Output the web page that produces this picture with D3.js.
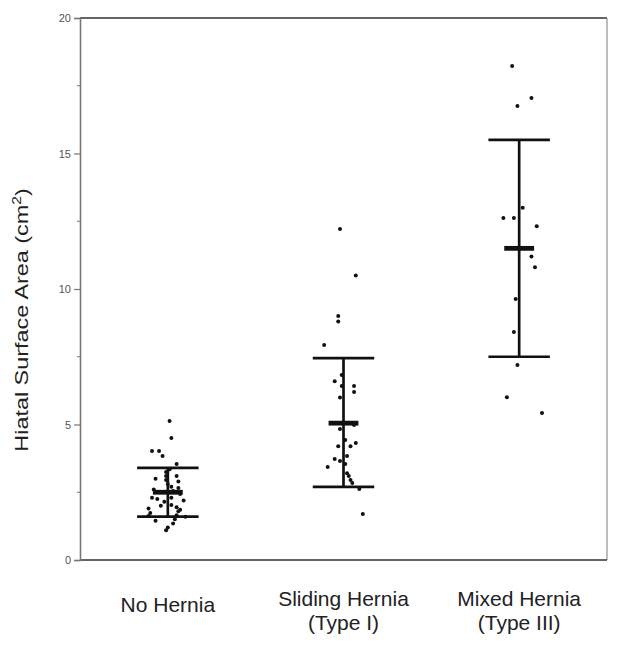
<!DOCTYPE html>
<html lang="en">
<head>
  <meta charset="UTF-8">
  <title>hiatal surface area</title>
  <style>
    body { margin: 0; background: #fff; }
    svg { display: block; font-family: "Liberation Sans", Arial, sans-serif; }
  </style>
</head>
<body>
  <div id="chart"></div>
<script src="https://d3js.org/d3.v7.min.js"></script>
<script>
  // categories and their two-line labels
  const groups = ['none', 'sliding', 'mixed']
  const labels = [['No Hernia'], ['Sliding Hernia', '(Type I)'], ['Mixed Hernia', '(Type III)']]

  // mean and error bar ends per group
  const means = [2.5, 5.05, 11.5]
  const upper = [3.4, 7.45, 15.5]
  const lower = [1.6, 2.7, 7.5]

  // individual values and jitter (fraction of category step)
  const noHernia = [5.13, 4.5, 4.02, 4.02, 3.84, 3.54, 3.25, 3.1, 2.95, 2.8, 3.0, 3.1, 2.9, 2.7, 2.6,
    2.66, 2.44, 2.5, 2.3, 2.25, 2.3, 2.15, 2.2, 2.03, 1.95, 1.85, 1.9, 1.73, 1.8, 1.65, 1.6, 1.62,
    1.45, 1.5, 1.35, 1.2, 1.1, 2.55, 3.35, 2.0]
  const noHerniaJit = [0.01, 0.02, -0.09, -0.05, -0.03, 0.05, -0.01, -0.01, -0.01, 0, -0.07, 0.05, 0.06, 0.02, -0.08,
    0.06, 0.07, -0.03, -0.09, -0.06, 0.02, -0.02, 0.09, 0.02, 0.05, 0.07, -0.11, -0.1, 0.06, 0.05, 0.1, -0.11,
    -0.07, 0.04, 0.03, 0, -0.01, 0.03, 0.01, -0.04]

  const sliding = [12.21, 10.5, 9.0, 8.8, 7.93, 6.83, 6.6, 6.42, 6.42, 6.2, 6.0, 4.98, 4.83, 4.43, 4.32,
    4.2, 4.2, 3.84, 3.73, 3.65, 3.54, 3.43, 3.2, 3.1, 2.95, 2.84, 2.62, 1.7]
  const slidingJit = [-0.02, 0.07, -0.03, -0.03, -0.11, -0.01, -0.05, -0.01, 0.06, 0.06, -0.02, 0.06, -0.02, 0.01, 0.07,
    0.04, -0.03, 0.02, -0.05, -0.02, 0.01, -0.09, 0.02, 0.03, 0.04, 0.05, 0.09, 0.11]

  const mixed = [18.23, 17.05, 16.75, 13.0, 12.62, 12.62, 12.32, 11.2, 10.8, 9.63, 8.41, 7.2, 6.01, 5.42]
  const mixedJit = [-0.04, 0.07, -0.01, 0.02, -0.09, -0.03, 0.1, 0.07, 0.09, -0.02, -0.03, -0.01, -0.07, 0.13]

  const yTicks = [0, 5, 10, 15, 20]
  const yMinor = [2.5, 7.5, 12.5, 17.5]

  const points = []
  ;[[noHernia, noHerniaJit], [sliding, slidingJit], [mixed, mixedJit]].forEach(([vals, jit], gi) => {
    vals.forEach((v, i) => points.push({ g: groups[gi], v: v, j: jit[i] }))
  })

  const W = 624, H = 646
  const m = { left: 80, right: 17, top: 18, bottom: 86 }
  const w = W - m.left - m.right, h = H - m.top - m.bottom

  const svg = d3.select('#chart').append('svg')
    .attr('width', W).attr('height', H)
  const g = svg.append('g').attr('transform', `translate(${m.left},${m.top})`)

  const x = d3.scalePoint().domain(groups).range([0, w]).padding(0.5)
  const y = d3.scaleLinear().domain([0, 20]).range([h, 0])
  const step = x.step()

  // frame
  g.append('line').attr('x1', 0).attr('x2', w).attr('y1', 0).attr('y2', 0)
    .attr('stroke', '#333').attr('stroke-width', 1.3)
  g.append('line').attr('x1', w).attr('x2', w).attr('y1', 0).attr('y2', h)
    .attr('stroke', '#999').attr('stroke-width', 1.3)
  g.append('line').attr('x1', 0).attr('x2', w).attr('y1', h).attr('y2', h)
    .attr('stroke', '#333').attr('stroke-width', 1.3)

  // y axis
  const yAxis = g.append('g')
    .call(d3.axisLeft(y).tickValues(yTicks).tickSize(6).tickPadding(3).tickFormat(d3.format('d')))
  yAxis.select('.domain').attr('stroke', '#777').attr('stroke-width', 1.6)
  yAxis.selectAll('.tick line').attr('stroke', '#777').attr('stroke-width', 1.2)
  yAxis.selectAll('.tick text').attr('fill', '#555').style('font-size', '11px')
    .style('font-family', '"Liberation Sans", Arial, sans-serif')

  g.append('g').selectAll('line').data(yMinor).join('line')
    .attr('x1', -3).attr('x2', 0)
    .attr('y1', d => y(d)).attr('y2', d => y(d))
    .attr('stroke', '#777').attr('stroke-width', 1)

  // y label (the source image is stretched vertically, so stretch along the text)
  const yl = svg.append('text')
    .attr('transform', `translate(28,320) rotate(-90) scale(1.3,1)`)
    .attr('text-anchor', 'middle')
    .attr('fill', '#222')
    .style('font-size', '18px')
  yl.append('tspan').text('Hiatal Surface Area (cm')
  yl.append('tspan').attr('baseline-shift', 'super').style('font-size', '12px').text('2')
  yl.append('tspan').text(')')

  // points
  g.selectAll('.dot').data(points).join('circle')
    .attr('class', 'dot')
    .attr('cx', d => x(d.g) + d.j * step)
    .attr('cy', d => y(d.v))
    .attr('r', 2)
    .attr('fill', '#111')

  // error bars
  const bars = g.selectAll('.bar').data(groups).join('g').attr('class', 'bar')
  const cap = step * 0.175, mh = step * 0.085
  bars.append('line')
    .attr('x1', d => x(d)).attr('x2', d => x(d))
    .attr('y1', (d, i) => y(upper[i])).attr('y2', (d, i) => y(lower[i]))
    .attr('stroke', '#111').attr('stroke-width', 2.7)
  bars.append('line')
    .attr('x1', d => x(d) - cap).attr('x2', d => x(d) + cap)
    .attr('y1', (d, i) => y(upper[i])).attr('y2', (d, i) => y(upper[i]))
    .attr('stroke', '#111').attr('stroke-width', 2.7)
  bars.append('line')
    .attr('x1', d => x(d) - cap).attr('x2', d => x(d) + cap)
    .attr('y1', (d, i) => y(lower[i])).attr('y2', (d, i) => y(lower[i]))
    .attr('stroke', '#111').attr('stroke-width', 2.7)
  bars.append('line')
    .attr('x1', d => x(d) - mh).attr('x2', d => x(d) + mh)
    .attr('y1', (d, i) => y(means[i])).attr('y2', (d, i) => y(means[i]))
    .attr('stroke', '#111').attr('stroke-width', 4.8)

  // category labels
  groups.forEach((gr, i) => {
    const lines = labels[i]
    const t = g.append('text')
      .attr('x', x(gr))
      .attr('y', lines.length === 1 ? h + 52 : h + 46)
      .attr('text-anchor', 'middle')
      .attr('fill', '#222')
      .style('font-size', '21px')
    lines.forEach((l, k) => {
      t.append('tspan').attr('x', x(gr)).attr('dy', k === 0 ? 0 : 24).text(l)
    })
  })
</script>
</body>
</html>
